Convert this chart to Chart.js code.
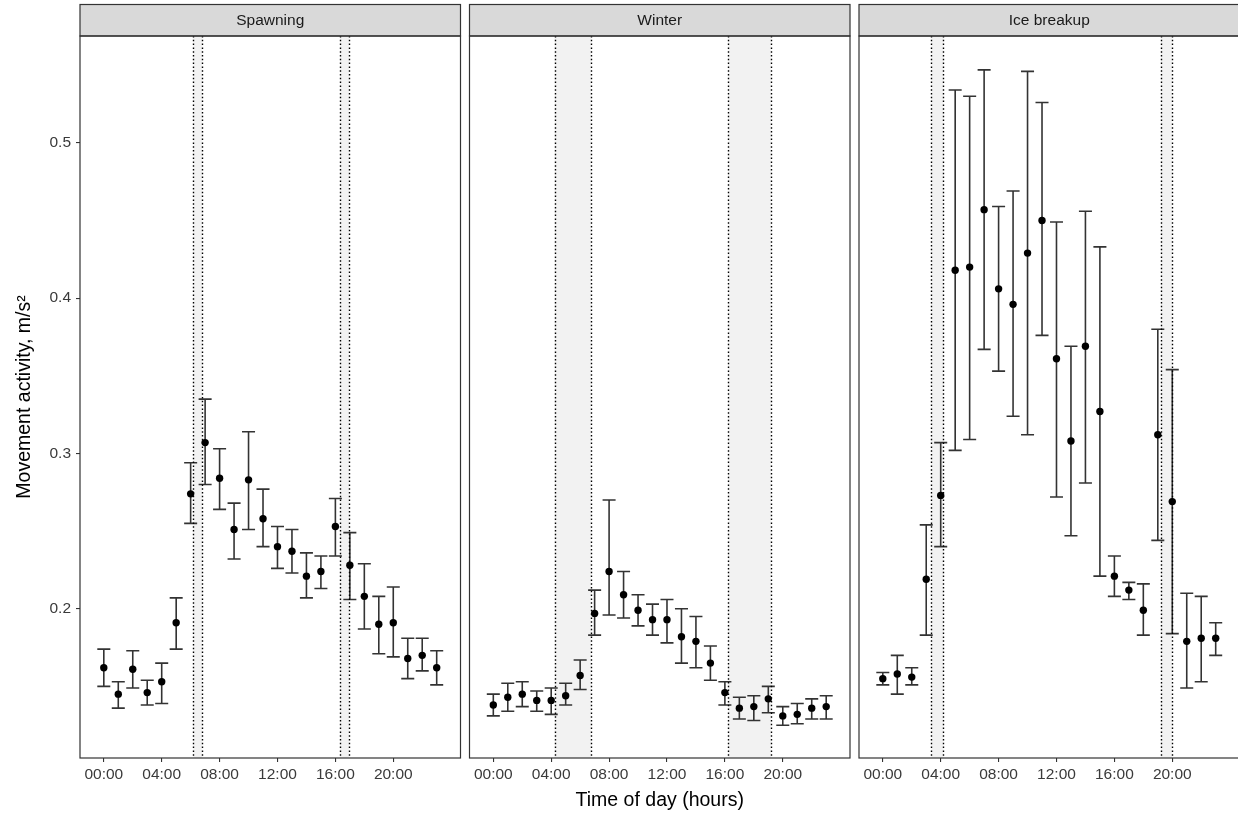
<!DOCTYPE html>
<html>
<head>
<meta charset="utf-8">
<script src="https://cdn.jsdelivr.net/npm/chart.js@4.4.1/dist/chart.umd.min.js"></script>
<style>
  html, body { margin: 0; padding: 0; background: #ffffff; overflow: hidden; width: 1238px; height: 815px; }
  canvas { position: absolute; left: 0; top: 0; }
</style>
</head>
<body>
<canvas id="c0" width="1240" height="815"></canvas>
<canvas id="c1" width="1240" height="815"></canvas>
<canvas id="c2" width="1240" height="815"></canvas>
<script>
// Hour of day for each hourly mean
const hours = [0, 1, 2, 3, 4, 5, 6, 7, 8, 9, 10, 11, 12, 13, 14, 15, 16, 17, 18, 19, 20, 21, 22, 23];

// Spawning season: mean activity and lower / upper limits
const spawnMean = [0.162, 0.145, 0.161, 0.146, 0.153, 0.191, 0.274, 0.307, 0.284, 0.251, 0.283, 0.258,
                   0.240, 0.237, 0.221, 0.224, 0.253, 0.228, 0.208, 0.190, 0.191, 0.168, 0.170, 0.162];
const spawnLow  = [0.150, 0.136, 0.149, 0.138, 0.139, 0.174, 0.255, 0.280, 0.264, 0.232, 0.251, 0.240,
                   0.226, 0.223, 0.207, 0.213, 0.234, 0.206, 0.187, 0.171, 0.169, 0.155, 0.160, 0.151];
const spawnHigh = [0.174, 0.153, 0.173, 0.154, 0.165, 0.207, 0.294, 0.335, 0.303, 0.268, 0.314, 0.277,
                   0.253, 0.251, 0.236, 0.234, 0.271, 0.249, 0.229, 0.208, 0.214, 0.181, 0.181, 0.173];

// Winter
const winterMean = [0.138, 0.143, 0.145, 0.141, 0.141, 0.144, 0.157, 0.197, 0.224, 0.209, 0.199, 0.193,
                    0.193, 0.182, 0.179, 0.165, 0.146, 0.136, 0.137, 0.142, 0.131, 0.132, 0.136, 0.137];
const winterLow  = [0.131, 0.134, 0.137, 0.134, 0.132, 0.138, 0.148, 0.183, 0.196, 0.194, 0.189, 0.183,
                    0.178, 0.165, 0.162, 0.154, 0.138, 0.129, 0.128, 0.133, 0.125, 0.126, 0.129, 0.129];
const winterHigh = [0.145, 0.152, 0.153, 0.147, 0.149, 0.152, 0.167, 0.212, 0.270, 0.224, 0.209, 0.203,
                    0.206, 0.200, 0.195, 0.176, 0.153, 0.143, 0.144, 0.150, 0.137, 0.139, 0.142, 0.144];

// Ice breakup
const iceMean = [0.155, 0.158, 0.156, 0.219, 0.273, 0.418, 0.420, 0.457, 0.406, 0.396, 0.429, 0.450,
                 0.361, 0.308, 0.369, 0.327, 0.221, 0.212, 0.199, 0.312, 0.269, 0.179, 0.181, 0.181];
const iceLow  = [0.151, 0.145, 0.151, 0.183, 0.240, 0.302, 0.309, 0.367, 0.353, 0.324, 0.312, 0.376,
                 0.272, 0.247, 0.281, 0.221, 0.208, 0.206, 0.183, 0.244, 0.184, 0.149, 0.153, 0.170];
const iceHigh = [0.159, 0.170, 0.162, 0.254, 0.307, 0.534, 0.530, 0.547, 0.459, 0.469, 0.546, 0.526,
                 0.449, 0.369, 0.456, 0.433, 0.234, 0.217, 0.216, 0.380, 0.354, 0.210, 0.208, 0.191];

// Twilight bands (start hour, end hour), marked by dotted lines and light shading
const spawnBands  = [[6.19, 6.79], [16.32, 16.95]];
const winterBands = [[4.23, 6.76], [16.24, 19.20]];
const iceBands    = [[3.36, 4.19], [19.21, 19.97]];

// Axis ticks
const xTickValues = [0, 4, 8, 12, 16, 20];
const xTickLabels = ['00:00', '04:00', '08:00', '12:00', '16:00', '20:00'];
const yTickValues = [0.2, 0.3, 0.4, 0.5];

const panelTitles = ['Spawning', 'Winter', 'Ice breakup'];

// Shared scale limits
const X_MIN = -1.645, X_MAX = 24.645;
const Y_MIN = 0.1039, Y_MAX = 0.5688;
const CAP_HALF = 0.45;

const FONT = "'Liberation Sans', Arial, Helvetica, sans-serif";
Chart.defaults.font.family = FONT;

function facetPlugin(title, bands, low, high) {
  return {
    id: 'facet',
    beforeDatasetsDraw(chart) {
      const { ctx, chartArea: a, scales: { x, y } } = chart;
      ctx.save();
      ctx.beginPath();
      ctx.rect(a.left, a.top, a.right - a.left, a.bottom - a.top);
      ctx.clip();
      // shaded twilight
      ctx.fillStyle = '#F2F2F2';
      bands.forEach(([s, e]) => {
        const x0 = x.getPixelForValue(s), x1 = x.getPixelForValue(e);
        ctx.fillRect(x0, a.top, x1 - x0, a.bottom - a.top);
      });
      // error bars
      ctx.strokeStyle = '#333333';
      ctx.lineWidth = 1.6;
      ctx.lineCap = 'butt';
      hours.forEach((h, i) => {
        const px = x.getPixelForValue(h);
        const pl = x.getPixelForValue(h - CAP_HALF);
        const pr = x.getPixelForValue(h + CAP_HALF);
        const yl = y.getPixelForValue(low[i]);
        const yh = y.getPixelForValue(high[i]);
        ctx.beginPath();
        ctx.moveTo(px, yh); ctx.lineTo(px, yl);
        ctx.moveTo(pl, yh); ctx.lineTo(pr, yh);
        ctx.moveTo(pl, yl); ctx.lineTo(pr, yl);
        ctx.stroke();
      });
      // dotted band edges
      ctx.setLineDash([1.5, 2.3]);
      ctx.strokeStyle = '#000000';
      ctx.lineWidth = 1.4;
      bands.forEach(pair => pair.forEach(v => {
        const px = Math.round(x.getPixelForValue(v)) + 0.5;
        ctx.beginPath();
        ctx.moveTo(px, a.top); ctx.lineTo(px, a.bottom);
        ctx.stroke();
      }));
      ctx.restore();
    },
    afterDraw(chart) {
      const { ctx, chartArea: a } = chart;
      ctx.save();
      // strip
      const stripTop = 4.5;
      ctx.fillStyle = '#D9D9D9';
      ctx.fillRect(a.left, stripTop, a.right - a.left, a.top - stripTop);
      ctx.strokeStyle = '#333333';
      ctx.lineWidth = 1.2;
      ctx.strokeRect(a.left, stripTop, a.right - a.left, a.top - stripTop);
      ctx.fillStyle = '#1A1A1A';
      ctx.font = '15.5px ' + FONT;
      ctx.textAlign = 'center';
      ctx.textBaseline = 'middle';
      ctx.fillText(title, (a.left + a.right) / 2, (stripTop + a.top) / 2 + 0.5);
      // panel border
      ctx.strokeRect(a.left, a.top, a.right - a.left, a.bottom - a.top);
      ctx.restore();
    }
  };
}

function makePanel(id, idx, title, mean, low, high, bands, padL, padR) {
  const first = idx === 0, middle = idx === 1;
  return new Chart(document.getElementById(id), {
    type: 'scatter',
    data: {
      datasets: [{
        data: hours.map((h, i) => ({ x: h, y: mean[i] })),
        pointRadius: 3.7,
        pointHoverRadius: 3.7,
        pointBackgroundColor: '#000000',
        pointBorderColor: '#000000',
        pointBorderWidth: 0,
        showLine: false
      }]
    },
    options: {
      responsive: false,
      animation: false,
      events: [],
      layout: { autoPadding: false, padding: { left: padL, right: padR, top: 36, bottom: 0 } },
      plugins: { legend: { display: false }, tooltip: { enabled: false } },
      scales: {
        x: {
          type: 'linear',
          min: X_MIN, max: X_MAX,
          afterBuildTicks: s => { s.ticks = xTickValues.map(v => ({ value: v })); },
          afterFit: s => { s.height = 57; },
          ticks: {
            autoSkip: false, maxRotation: 0, padding: 3,
            color: '#3A3A3A', font: { size: 15.5 },
            callback: (v, i) => xTickLabels[i]
          },
          grid: { display: true, drawOnChartArea: false, drawTicks: true, tickLength: 4, color: '#333333', lineWidth: 1.1 },
          border: { display: false },
          title: {
            display: middle, text: 'Time of day (hours)', color: '#000000',
            font: { size: 19.5 }, padding: { top: 0, bottom: 3 }
          }
        },
        y: {
          type: 'linear',
          display: first,
          min: Y_MIN, max: Y_MAX,
          afterBuildTicks: s => { s.ticks = yTickValues.map(v => ({ value: v })); },
          afterFit: s => { s.width = first ? 80 : 0; },
          ticks: {
            padding: 5, color: '#3A3A3A', font: { size: 15.5 },
            callback: v => v.toFixed(1)
          },
          grid: { display: true, drawOnChartArea: false, drawTicks: true, tickLength: 4, color: '#333333', lineWidth: 1.1 },
          border: { display: false },
          title: {
            display: first, text: 'Movement activity, m/s²', color: '#000000',
            font: { size: 19.5 }, padding: { top: 13, bottom: 0 }
          }
        }
      }
    },
    plugins: [facetPlugin(title, bands, low, high)]
  });
}

makePanel('c0', 0, panelTitles[0], spawnMean, spawnLow, spawnHigh, spawnBands, 0, 1240 - 460.5);
makePanel('c1', 1, panelTitles[1], winterMean, winterLow, winterHigh, winterBands, 469.5, 1240 - 850);
makePanel('c2', 2, panelTitles[2], iceMean, iceLow, iceHigh, iceBands, 859, 0.5);
</script>
</body>
</html>
